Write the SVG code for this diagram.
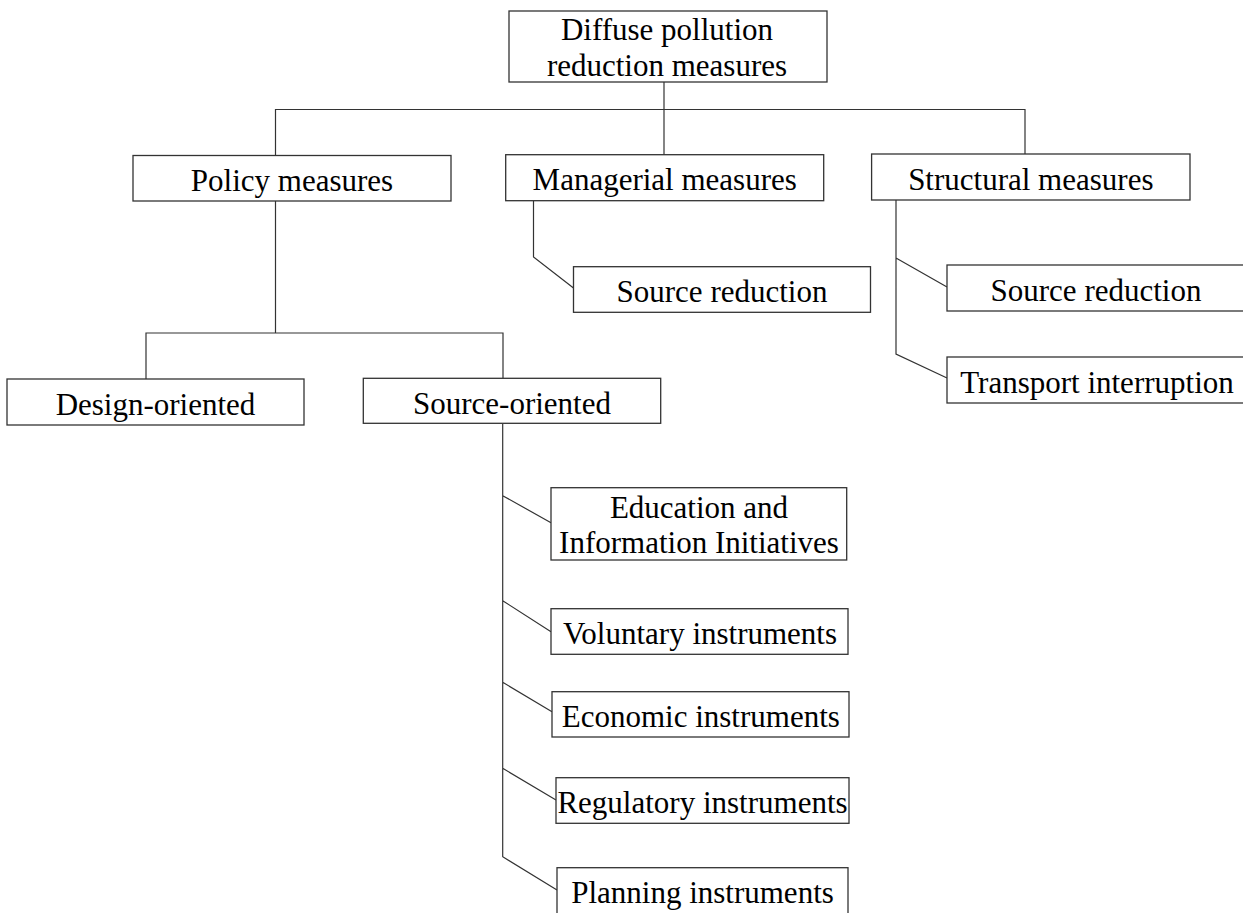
<svg xmlns="http://www.w3.org/2000/svg" width="1243" height="913" viewBox="0 0 1243 913">
<style>
.box{fill:#fff;stroke:#333;stroke-width:1.3}
.ln{fill:none;stroke:#333;stroke-width:1.2}
.t{font-family:'Liberation Serif','DejaVu Serif',serif;font-size:31px;fill:#000;text-anchor:middle}
</style>
<rect width="1243" height="913" fill="#fff"/>
<g id="connectors">
<path class="ln" d="M664,82 V155"/>
<path class="ln" d="M275.5,155.5 V109.5 H1025 V154"/>
<path class="ln" d="M275.5,201 V333 M146,379 V333 H503 V378"/>
<path class="ln" d="M533.5,201 V257 L573.5,288"/>
<path class="ln" d="M896,200 V354 L947,378 M896,258 L947,287"/>
<path class="ln" d="M502.7,424 V856.7 L557,890 M502.7,495.7 L551,522.7 M502.7,600.7 L551,631.7 M502.7,682.3 L552,711.7 M502.7,768.3 L556,800"/>
</g>
<g class="t" font-family="Liberation Serif, DejaVu Serif, serif">
<g id="n-root"><rect class="box" x="509" y="11" width="318" height="71"/><text x="667" y="40">Diffuse pollution</text><text x="667" y="76">reduction measures</text></g>
<g id="n-policy"><rect class="box" x="133" y="155.5" width="318" height="45.5"/><text x="292" y="190.7">Policy measures</text></g>
<g id="n-managerial"><rect class="box" x="505.7" y="154.7" width="318" height="46"/><text x="664.7" y="190">Managerial measures</text></g>
<g id="n-structural"><rect class="box" x="871.6" y="154" width="318.4" height="46"/><text x="1030.8" y="189.5">Structural measures</text></g>
<g id="n-man-source"><rect class="box" x="573.5" y="266.7" width="297" height="45.6"/><text x="722" y="302">Source reduction</text></g>
<g id="n-str-source"><rect class="box" x="947" y="265" width="300" height="46"/><text x="1096" y="300.5">Source reduction</text></g>
<g id="n-transport"><rect class="box" x="947" y="357" width="300" height="46"/><text x="1097" y="392.5">Transport interruption</text></g>
<g id="n-design"><rect class="box" x="7" y="379" width="297" height="46"/><text x="155.5" y="414.5">Design-oriented</text></g>
<g id="n-source"><rect class="box" x="363.3" y="378.3" width="297.4" height="45"/><text x="512" y="413.5">Source-oriented</text></g>
<g id="n-education"><rect class="box" x="551" y="487.7" width="295.7" height="72.3"/><text x="699" y="518.3">Education and</text><text x="699" y="553.3">Information Initiatives</text></g>
<g id="n-voluntary"><rect class="box" x="551" y="608.7" width="297" height="45.6"/><text x="700" y="644.3">Voluntary instruments</text></g>
<g id="n-economic"><rect class="box" x="552" y="691.7" width="297" height="45.3"/><text x="700.8" y="726.7">Economic instruments</text></g>
<g id="n-regulatory"><rect class="box" x="556" y="777.7" width="293" height="45.6"/><text x="702.5" y="812.7">Regulatory instruments</text></g>
<g id="n-planning"><rect class="box" x="557" y="867.7" width="291" height="60"/><text x="702.5" y="902.7">Planning instruments</text></g>
</g>
</svg>
